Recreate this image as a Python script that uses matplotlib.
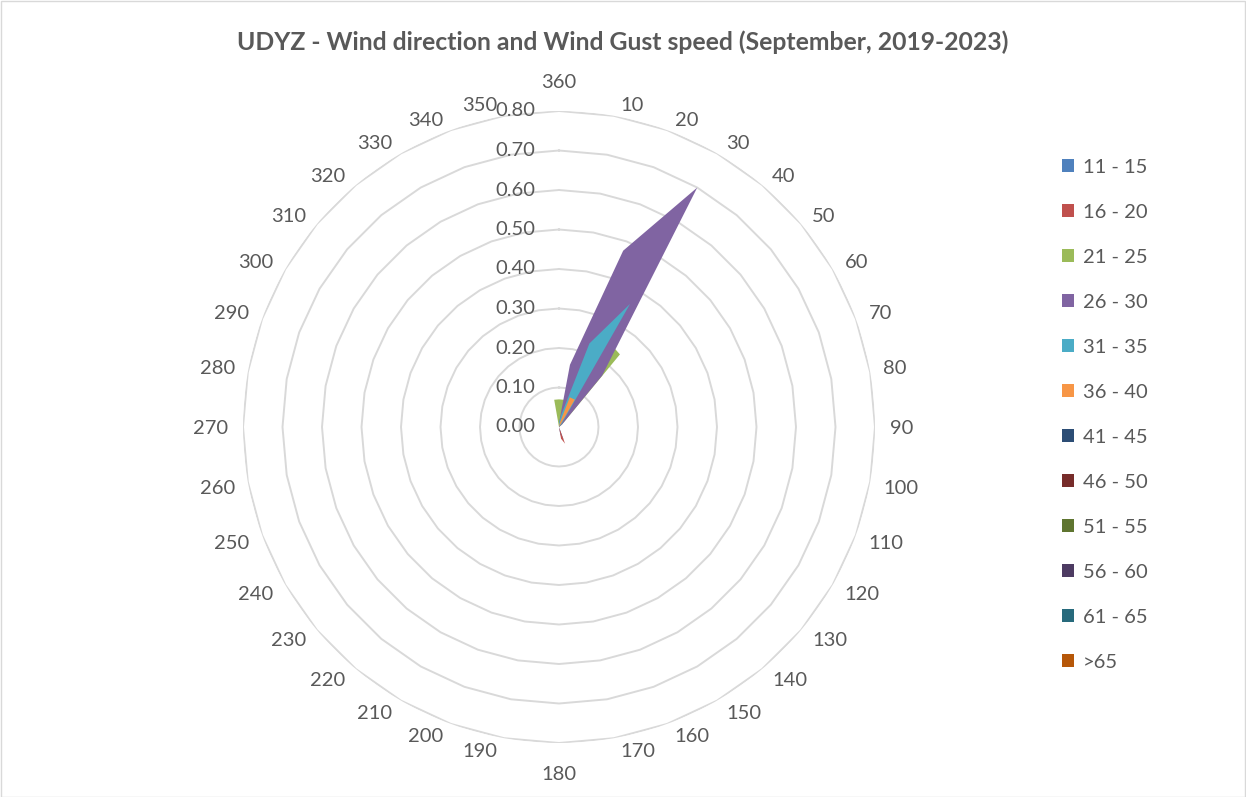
import numpy as np
import matplotlib
matplotlib.use("Agg")
import matplotlib.pyplot as plt
from matplotlib.patches import Patch, Rectangle
from matplotlib.transforms import ScaledTranslation

plt.rcParams['font.family'] = ['Lato', 'DejaVu Sans']

# ---- data ----
directions = [360, 10, 20, 30, 40, 50, 60, 70, 80, 90, 100, 110, 120, 130, 140, 150, 160, 170,
              180, 190, 200, 210, 220, 230, 240, 250, 260, 270, 280, 290, 300, 310, 320, 330, 340, 350]
series_names = ["11 - 15", "16 - 20", "21 - 25", "26 - 30", "31 - 35", "36 - 40",
                "41 - 45", "46 - 50", "51 - 55", "56 - 60", "61 - 65", ">65"]
#            360  10    20    30    40    50   60 70 80 90 100 110 120 130  140 150 160    170   180 190 200 210 220 230 240 250 260 270 280  290 300 310    320    330 340 350
s_11_15 = [0,   0,    0,    0,    0,    0,   0, 0, 0, 0, 0,  0,  0,  0,    0,  0,  0.035, 0.02, 0,  0,  0,  0,  0,  0,  0,  0,  0,  0,  0,    0,  0,  0,     0,     0,  0,  0]
s_16_20 = [0,   0,    0,    0,    0,    0,   0, 0, 0, 0, 0,  0,  0,  0,    0,  0,  0.045, 0.03, 0,  0,  0,  0,  0,  0,  0,  0,  0,  0,  0,    0,  0,  0,     0,     0,  0,  0]
s_21_25 = [0.07, 0.07, 0.15, 0.25, 0.24, 0.01, 0, 0, 0, 0, 0,  0,  0,  0,    0,  0,  0,     0,    0,  0,  0,  0,  0,  0,  0,  0,  0,  0,  0,    0,  0,  0,     0,     0,  0,  0.07]
s_26_30 = [0.01, 0.16, 0.475, 0.70, 0.17, 0.01, 0, 0, 0, 0, 0, 0,  0,  0.04, 0,  0,  0,     0,    0,  0,  0,  0,  0,  0,  0,  0,  0,  0,  0.025, 0, 0,  0,     0,     0,  0,  0]
s_31_35 = [0.01, 0.03, 0.225, 0.36, 0.01, 0,  0, 0, 0, 0, 0,  0,  0,  0,    0,  0,  0,     0,    0,  0,  0,  0,  0,  0,  0,  0,  0,  0,  0,    0,  0,  0,     0,     0,  0,  0]
s_36_40 = [0,   0.01, 0.08, 0.08, 0,    0,   0, 0, 0, 0, 0,  0,  0,  0,    0,  0,  0,     0,    0,  0,  0,  0,  0,  0,  0,  0,  0,  0,  0,    0,  0,  0,     0,     0,  0,  0]
s_41_45 = [0,   0,    0,    0,    0,    0,   0, 0, 0, 0, 0,  0,  0,  0,    0,  0,  0,     0,    0,  0,  0,  0,  0,  0,  0,  0,  0,  0,  0,    0,  0,  0.015, 0,     0,  0,  0]
s_46_50 = [0,   0,    0,    0,    0,    0,   0, 0, 0, 0, 0,  0,  0,  0,    0,  0,  0,     0.02, 0,  0,  0,  0,  0,  0,  0,  0,  0,  0,  0,    0,  0,  0,     0,     0,  0,  0]
s_51_55 = [0] * 36
s_56_60 = [0,   0,    0,    0,    0,    0,   0, 0, 0, 0, 0,  0,  0,  0,    0,  0,  0,     0,    0,  0,  0,  0,  0,  0,  0,  0,  0,  0,  0,    0,  0,  0,     0.012, 0,  0,  0]
s_61_65 = [0] * 36
s_gt65 = [0] * 36
all_series = [s_11_15, s_16_20, s_21_25, s_26_30, s_31_35, s_36_40,
              s_41_45, s_46_50, s_51_55, s_56_60, s_61_65, s_gt65]
radial_ticks = [0.0, 0.1, 0.2, 0.3, 0.4, 0.5, 0.6, 0.7, 0.8]

colors = ["#4F81BD", "#C0504D", "#9BBB59", "#8064A2", "#4BACC6", "#F79646",
          "#2C4D75", "#772C2A", "#5F7530", "#4D3B62", "#276A7C", "#B65708"]
text_color = "#595959"
grid_color = "#D9D9D9"

W, H = 1246, 797
fig = plt.figure(figsize=(W / 100, H / 100), dpi=100)

cx, cy, R = 559, 427, 316
ax = fig.add_axes([(cx - R) / W, (H - cy - R) / H, 2 * R / W, 2 * R / H], projection='polar')
ax.set_theta_zero_location('N')
ax.set_theta_direction(-1)
rmax = radial_ticks[-1]
ax.set_ylim(0, rmax)
ax.grid(False)
ax.spines['polar'].set_visible(False)
ax.set_xticks([])
ax.set_yticks([])
ax.patch.set_alpha(0)

theta = np.deg2rad(np.array(directions) % 360)
theta_closed = np.append(theta, theta[0])

# polygonal rings
for r in radial_ticks[1:]:
    ax.plot(theta_closed, [r] * len(theta_closed), color=grid_color, lw=1.4, zorder=1)

# filled series
for vals, col in zip(all_series, colors):
    v = np.append(np.array(vals, dtype=float), vals[0])
    ax.fill(theta_closed, v, color=col, lw=0, zorder=2)

# category labels (Excel-like box placement outside the rings)
for t, d in zip(theta, directions):
    deg = d % 360
    dx = dy = 0
    if deg in (0, 180):
        ha = 'center'
        va = 'bottom' if deg == 0 else 'top'
        ra = 336 if deg == 0 else 339
    elif deg in (90, 270):
        ha = 'left' if deg == 90 else 'right'
        va = 'center'
        ra = 331
        dy = -1
    else:
        ha = 'left' if deg < 180 else 'right'
        dx = 5 if deg < 180 else -5
        if deg < 90 or deg > 270:
            va = 'baseline'
            dy = -3
        else:
            va = 'top'
            dy = 3
        ra = 324
    tr = ax.transData + ScaledTranslation(dx / 100, dy / 100, fig.dpi_scale_trans)
    ax.text(t, rmax * ra / R, str(d), ha=ha, va=va, fontsize=14.5,
            color=text_color, clip_on=False, transform=tr)

# radial labels
off = ScaledTranslation(-24 / 100, 0, fig.dpi_scale_trans)
for r in radial_ticks:
    ax.text(0, r, f"{r:.2f}", transform=ax.transData + off, ha='right', va='center',
            fontsize=14.5, color=text_color, clip_on=False)

# title
fig.text(623 / W, 1 - 42 / H, "UDYZ - Wind direction and Wind Gust speed (September, 2019-2023)",
         ha='center', va='center', fontsize=17.8, fontweight='bold', color=text_color)

# legend
handles = [Patch(facecolor=c, edgecolor='none') for c in colors]
leg = fig.legend(handles, series_names, loc='upper left',
                 bbox_to_anchor=(1062 / W, 1 - 159 / H), frameon=False,
                 fontsize=14.5, labelspacing=1.39, handlelength=0.62, handleheight=0.62,
                 handletextpad=0.4, borderpad=0, borderaxespad=0)
for t in leg.get_texts():
    t.set_color(text_color)

# chart border
fig.patches.append(Rectangle((0.5 / W, 0.5 / H), 1 - 1.5 / W, 1 - 1.5 / H, transform=fig.transFigure,
                             fill=False, edgecolor=grid_color, lw=1))

fig.savefig("out.png", dpi=100)
